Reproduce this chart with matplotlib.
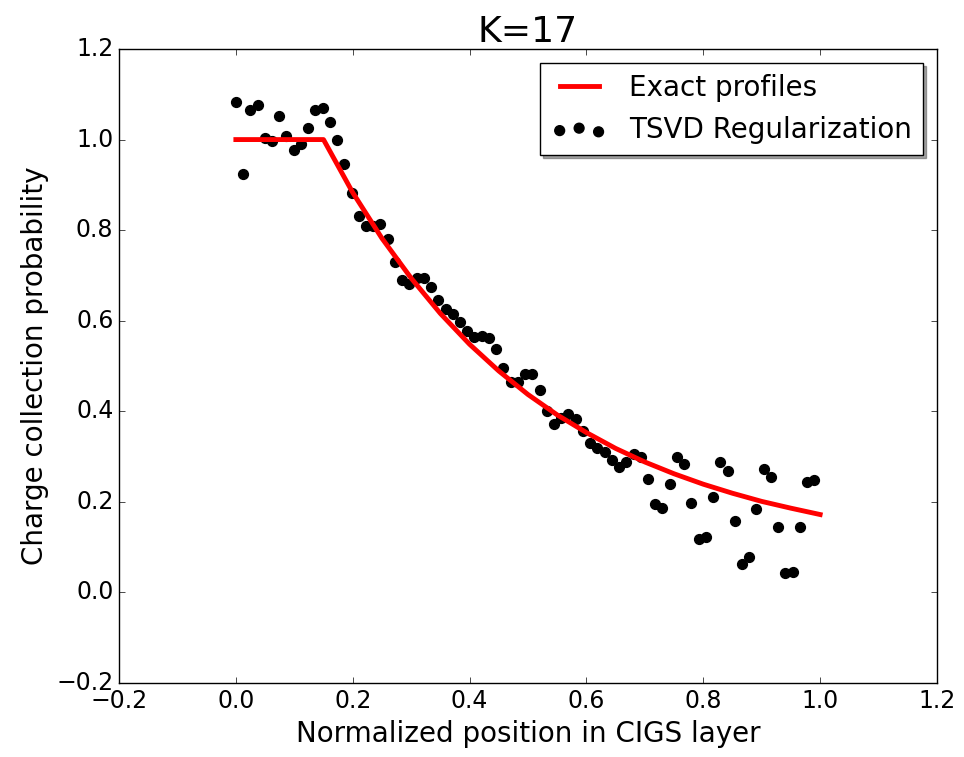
import numpy as np
import matplotlib
matplotlib.use("Agg")
import matplotlib.pyplot as plt

plt.style.use('classic')

# exact profile
x_exact = [0.0, 0.15, 0.2, 0.25, 0.3, 0.35, 0.4, 0.45, 0.5, 0.55, 0.6,
           0.65, 0.7, 0.75, 0.8, 0.85, 0.9, 0.95, 1.0]
y_exact = [1.0, 1.0, 0.883, 0.782, 0.694, 0.616, 0.548, 0.489, 0.437, 0.392, 0.353,
           0.318, 0.288, 0.262, 0.239, 0.219, 0.201, 0.186, 0.172]

# TSVD regularization points (81 points on 0 .. 0.99)
x_tsvd = np.linspace(0, 0.99, 81)
y_tsvd = [1.083, 0.924, 1.066, 1.076, 1.004, 0.996, 1.053, 1.007, 0.976, 0.990,
          1.026, 1.066, 1.070, 1.038, 0.998, 0.945, 0.882, 0.832, 0.810, 0.810,
          0.813, 0.781, 0.729, 0.689, 0.681, 0.694, 0.694, 0.675, 0.646, 0.625,
          0.615, 0.597, 0.578, 0.565, 0.567, 0.561, 0.538, 0.495, 0.465, 0.464,
          0.482, 0.483, 0.447, 0.401, 0.373, 0.385, 0.393, 0.383, 0.357, 0.331,
          0.320, 0.310, 0.292, 0.276, 0.287, 0.305, 0.298, 0.250, 0.195, 0.187,
          0.239, 0.298, 0.283, 0.198, 0.117, 0.122, 0.210, 0.288, 0.268, 0.158,
          0.063, 0.078, 0.184, 0.272, 0.254, 0.145, 0.043, 0.046, 0.145, 0.244,
          0.248]

fig = plt.figure(figsize=(9.64, 7.57), dpi=100)
ax = fig.add_axes([119/964, 1-683/757, 818/964, 634/757])

ax.plot(x_exact, y_exact, color='red', lw=3.5, label='Exact profiles')
ax.scatter(x_tsvd, y_tsvd, s=50, c='k', label='TSVD Regularization')

ax.set_xlim(-0.2, 1.2)
ax.set_ylim(-0.2, 1.2)
ax.tick_params(labelsize=17)
ax.set_xlabel('Normalized position in CIGS layer', fontsize=20)
ax.set_ylabel('Charge collection probability', fontsize=20)
ax.set_title('K=17', fontsize=26)
ax.legend(loc='upper right', shadow=True, fontsize=20)

fig.savefig('out.png', dpi=100)
